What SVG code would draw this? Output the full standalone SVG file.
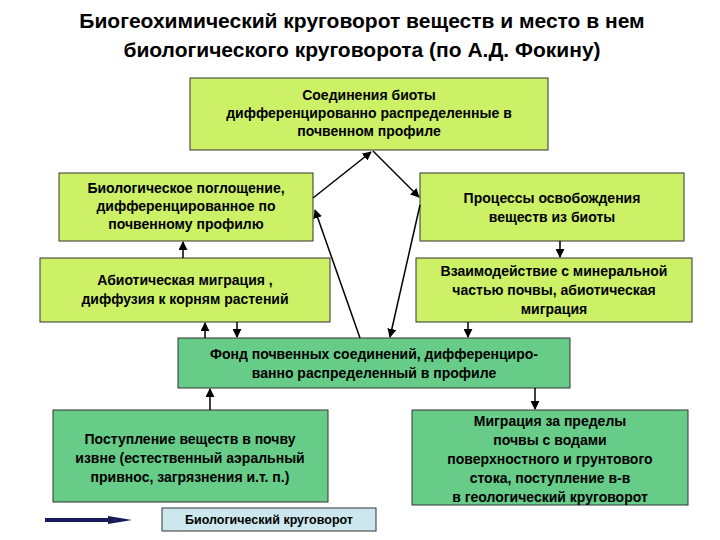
<svg xmlns="http://www.w3.org/2000/svg" width="720" height="540" viewBox="0 0 720 540">
<defs>
<style>
text{font-family:"Liberation Sans",Arial,sans-serif;font-weight:bold;fill:#000;text-anchor:middle}
.t{font-size:21px}
.n{font-size:14px}
.lg{fill:#ccf066;stroke:#333;stroke-width:1}
.dg{fill:#66cc88;stroke:#333;stroke-width:1}
.c line{stroke:#000;stroke-width:1.5;marker-end:url(#a)}
</style>
<marker id="a" viewBox="0 0 10 10" refX="9" refY="5" markerWidth="6" markerHeight="6" orient="auto"><path d="M0,0L10,5L0,10z" fill="#000"/></marker>
</defs>
<rect width="720" height="540" fill="#fff"/>
<text class="t" x="362" y="28">Биогеохимический круговорот веществ и место в нем</text>
<text class="t" x="362" y="57">биологического круговорота (по А.Д. Фокину)</text>
<g id="top"><rect class="lg" x="190" y="78" width="358" height="72"/>
<text class="n" x="369" y="100">Соединения биоты</text><text class="n" x="369" y="118">дифференцированно распределенные в</text><text class="n" x="369" y="136">почвенном профиле</text></g>
<g id="bioabs"><rect class="lg" x="59" y="173" width="254" height="68"/>
<text class="n" x="186" y="193">Биологическое поглощение,</text><text class="n" x="186" y="211">дифференцированное по</text><text class="n" x="186" y="229">почвенному профилю</text></g>
<g id="abio"><rect class="lg" x="40" y="258" width="290" height="64"/>
<text class="n" x="185" y="285">Абиотическая миграция ,</text><text class="n" x="185" y="304">диффузия к корням растений</text></g>
<g id="release"><rect class="lg" x="420" y="173" width="264" height="68"/>
<text class="n" x="552" y="203">Процессы освобождения</text><text class="n" x="552" y="222">веществ из биоты</text></g>
<g id="inter"><rect class="lg" x="416" y="258" width="276" height="64"/>
<text class="n" x="554" y="276">Взаимодействие с минеральной</text><text class="n" x="554" y="295">частью почвы, абиотическая</text><text class="n" x="554" y="314">миграция</text></g>
<g id="fund"><rect class="dg" x="178" y="338" width="392" height="50"/>
<text class="n" x="374" y="359">Фонд почвенных соединений, дифференциро-</text><text class="n" x="374" y="378">ванно распределенный в профиле</text></g>
<g id="input"><rect class="dg" x="53" y="410" width="275" height="92"/>
<text class="n" x="190" y="444">Поступление веществ в почву</text><text class="n" x="190" y="463">извне (естественный аэральный</text><text class="n" x="190" y="482">привнос, загрязнения и.т. п.)</text></g>
<g id="migr"><rect class="dg" x="412" y="410" width="276" height="95"/>
<text class="n" x="550" y="426">Миграция за пределы</text><text class="n" x="550" y="445">почвы с водами</text><text class="n" x="550" y="464">поверхностного и грунтового</text><text class="n" x="550" y="483">стока, поступление в-в</text><text class="n" x="550" y="502">в геологический круговорот</text></g>
<g id="legend"><rect x="162" y="508" width="214" height="23" fill="#cce8ee" stroke="#333"/>
<text x="269" y="524" style="font-size:12.5px">Биологический круговорот</text>
<line x1="45" y1="520" x2="112" y2="520" stroke="#1a1a5a" stroke-width="4"/>
<path d="M108,516L132,520L108,524z" fill="#1a1a5a"/></g>
<g class="c" id="connectors">
<line x1="313" y1="198" x2="371" y2="152"/>
<line x1="373" y1="151" x2="419" y2="197"/>
<line x1="360" y1="338" x2="315" y2="210"/>
<line x1="420" y1="205" x2="390" y2="337"/>
<line x1="183" y1="258" x2="183" y2="242"/>
<line x1="205" y1="338" x2="205" y2="323"/>
<line x1="237" y1="322" x2="237" y2="337"/>
<line x1="560" y1="241" x2="560" y2="257"/>
<line x1="468" y1="322" x2="468" y2="337"/>
<line x1="210" y1="410" x2="210" y2="389"/>
<line x1="535" y1="388" x2="535" y2="409"/>
</g>
</svg>
